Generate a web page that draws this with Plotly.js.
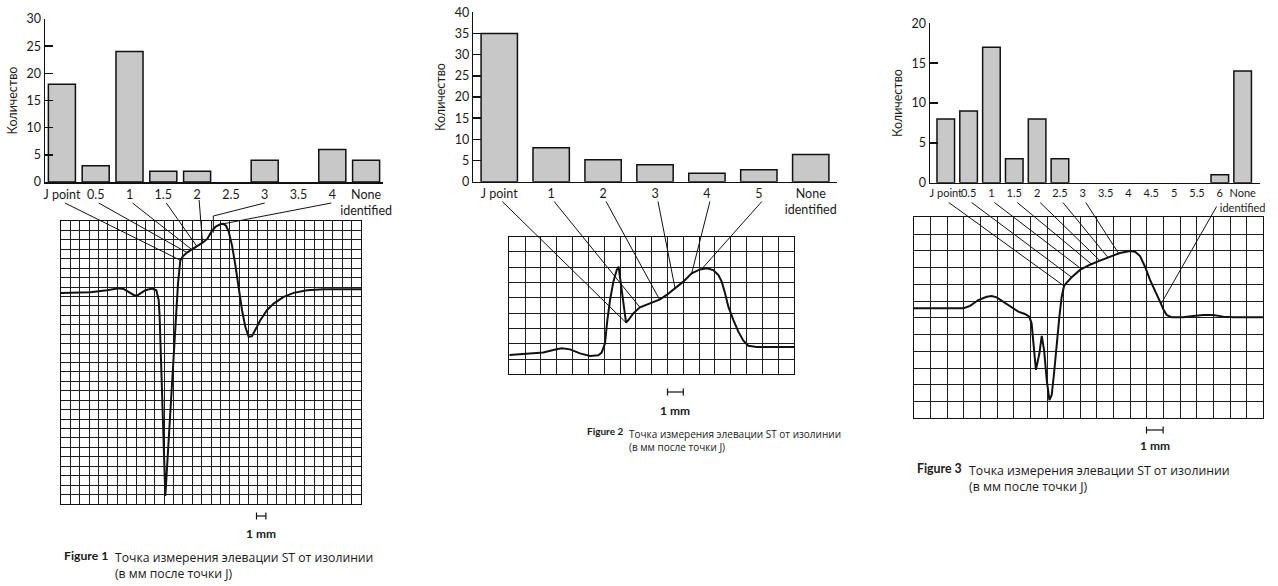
<!DOCTYPE html>
<html><head><meta charset="utf-8">
<script src="https://cdn.plot.ly/plotly-3.0.1.min.js"></script>
<style>html,body{margin:0;padding:0;background:#fff}#chart{width:1278px;height:586px}</style>
</head><body><div id="chart"></div>
<script>
const W = 1278, H = 586;

// ---------- Data ----------
const fig1Categories = ['J point','0.5','1','1.5','2','2.5','3','3.5','4','None<br>identified'];
const fig1Counts = [18,3,24,2,2,0,4,0,6,4];
const fig1TickVals = [0,5,10,15,20,25,30];

const fig2Categories = ['J point','1','2','3','4','5','None<br>identified'];
const fig2Counts = [35,8,5.2,4,2,2.8,6.4];
const fig2TickVals = [0,5,10,15,20,25,30,35,40];

const fig3Categories = ['J point','0.5','1','1.5','2','2.5','3','3.5','4','4.5','5','5.5','6','None<br>identified'];
const fig3Counts = [8,9,17,3,8,3,0,0,0,0,0,0,1,14];
const fig3TickVals = [0,5,10,15,20];

// ECG traces, in grid cells (x from left, y from bottom)
const fig1EcgX = [0,3.13,4.91,6.15,6.68,7.22,7.75,8.11,8.46,9.0,9.71,10.17,10.42,10.52,11.13,12.48,12.73,13.0,13.44,13.97,14.5,15.1,15.6,16.07,16.5,17.0,17.3,17.6,17.88,18.24,18.6,18.95,19.31,19.66,20.02,20.37,20.84,21.26,21.97,22.68,23.75,24.82,26.24,28.02,32];
const fig1EcgY = [22.38,22.45,22.66,22.87,22.8,22.48,22.16,22.09,22.31,22.66,22.84,22.66,21.6,19.84,0.85,23.36,25.84,26.25,26.65,26.96,27.3,27.7,28.1,28.9,29.4,29.65,29.7,29.5,28.9,27.42,25.31,22.84,20.54,18.78,17.72,17.79,18.6,19.48,20.54,21.25,21.95,22.38,22.66,22.76,22.76];

const fig2EcgX = [0,1.10,2.15,2.78,3.31,3.84,4.47,5.10,5.63,5.84,6.05,6.20,6.37,6.58,6.79,6.91,7.38,7.53,7.84,8.26,8.90,9.53,9.95,10.48,11.0,11.53,12.06,12.48,12.9,13.22,13.43,13.64,13.85,14.17,14.48,14.80,15.11,15.64,18];
const fig2EcgY = [1.26,1.33,1.42,1.59,1.70,1.63,1.37,1.20,1.24,1.42,2.03,3.55,4.86,6.06,6.82,7.04,3.38,3.55,3.99,4.38,4.64,4.90,5.19,5.62,6.06,6.60,6.86,6.93,6.82,6.49,6.06,5.30,4.42,3.55,2.79,2.20,1.87,1.79,1.79];

const fig3EcgX = [0,2.97,3.37,3.87,4.37,4.67,4.97,5.37,5.77,6.27,6.67,6.93,7.07,7.17,7.33,7.54,7.68,7.82,7.98,8.14,8.28,8.42,8.58,8.74,8.88,9.02,9.18,9.48,9.98,10.58,11.18,11.78,12.38,12.99,13.29,13.59,13.89,14.19,14.49,14.79,14.99,15.19,15.49,16.19,16.79,17.39,17.99,18.60,19.2,21];
const fig3EcgY = [6.57,6.57,6.71,7.06,7.26,7.30,7.22,6.97,6.67,6.37,6.23,6.07,5.67,4.48,2.89,3.88,4.92,4.08,2.29,1.09,1.39,2.69,4.48,6.07,7.26,7.90,8.10,8.42,8.86,9.17,9.41,9.65,9.87,9.99,9.95,9.69,9.05,8.26,7.56,6.97,6.51,6.17,6.03,6.03,6.11,6.17,6.17,6.07,6.03,6.03];

// leader lines: category index on bar axis -> point on the ECG trace (grid cells)
const fig1LeaderCats = [0,1,2,3,4,6,8];
const fig1LeaderEndX = [12.73,13.44,13.97,14.5,15.1,16.25,17.2];
const fig1LeaderEndY = [25.84,26.65,26.96,27.3,27.7,28.75,29.68];
const fig2LeaderCats = [0,1,2,3,4,5];
const fig2LeaderEndX = [7.38,8.26,9.50,10.48,11.53,12.16];
const fig2LeaderEndY = [3.38,4.38,4.89,5.62,6.60,6.88];
const fig3LeaderCats = [0,1,2,3,4,5,6,13];
const fig3LeaderEndX = [9.02,9.48,10.08,10.68,11.18,11.65,12.3,14.85];
const fig3LeaderEndY = [7.90,8.42,8.90,9.20,9.41,9.62,9.85,6.83];

// ---------- Layout geometry (page pixels) ----------
const BAR = {
  f1:{left:45, right:383, top:19, bottom:182, r0:-0.5, r1:9.5, ymax:30, ty:203},
  f2:{left:473.3, right:836.7, top:12.3, bottom:181.7, r0:-0.5, r1:6.5, ymax:40, ty:201.5},
  f3:{left:930, right:1260, top:23.3, bottom:182.7, r0:-0.69, r1:13.76, ymax:20, ty:202.5}
};
const GRID = {
  f1:{left:61, right:361, top:221, bottom:504, cols:32, rows:30},
  f2:{left:509.3, right:794, top:236.7, bottom:374.3, cols:18, rows:9},
  f3:{left:914, right:1263.3, top:217.3, bottom:418.3, cols:21, rows:12}
};
const fx = p => p / W;
const fy = p => 1 - p / H;
const gx2px = (g, x) => g.left + x / g.cols * (g.right - g.left);
const gy2px = (g, y) => g.bottom - y / g.rows * (g.bottom - g.top);
const cat2px = (b, i) => b.left + (i - b.r0) / (b.r1 - b.r0) * (b.right - b.left);

const TXT = '#1a1a1a';
const FONT = 'Lato, sans-serif';

const traces = [];
const layout = {
  width: W, height: H,
  margin:{l:0,r:0,t:0,b:0},
  paper_bgcolor:'#fff', plot_bgcolor:'rgba(0,0,0,0)',
  showlegend:false,
  font:{family:FONT, color:TXT},
  annotations:[], shapes:[]
};

function addBar(n, key, cats, vals, tickvals, gap, xTickSize) {
  const b = BAR[key];
  const xa = n === 1 ? 'x' : 'x' + n, ya = n === 1 ? 'y' : 'y' + n;
  traces.push({type:'bar', x:cats, y:vals, xaxis:xa, yaxis:ya, width:1-gap,
    marker:{color:'#c8c8c8', line:{color:'#111', width:vals.map(v => v > 0 ? 1.5 : 0)}}, hoverinfo:'skip'});
  layout['xaxis' + (n === 1 ? '' : n)] = {
    domain:[fx(b.left), fx(b.right)], anchor:ya, type:'category',
    range:[b.r0, b.r1], showline:true, linecolor:'#111', linewidth:1.5,
    ticks:'', showgrid:false, zeroline:false, tickangle:0,
    tickfont:{family:FONT, size:xTickSize, color:TXT},
    ticklabelstandoff:0, fixedrange:true
  };
  layout['yaxis' + (n === 1 ? '' : n)] = {
    domain:[fy(b.bottom), fy(b.top)], anchor:xa, range:[0, b.ymax],
    tickvals:tickvals, ticks:'inside', ticklen:8, tickwidth:1.5, tickcolor:'#111',
    showline:true, linecolor:'#111', linewidth:1.5, showgrid:false, zeroline:false,
    tickfont:{family:FONT, size:12.5, color:TXT}, fixedrange:true,
    title:{text:'Количество', font:{family:FONT, size:12.5, color:TXT}, standoff:6}
  };
}
addBar(1, 'f1', fig1Categories, fig1Counts, fig1TickVals, 0.2, 12.5);
addBar(2, 'f2', fig2Categories, fig2Counts, fig2TickVals, 0.3, 12.5);
addBar(3, 'f3', fig3Categories, fig3Counts, fig3TickVals, 0.23, 11);

function addGrid(n, key, xs, ys) {
  const g = GRID[key];
  const xa = 'x' + n, ya = 'y' + n;
  traces.push({type:'scatter', mode:'lines', x:xs, y:ys, xaxis:xa, yaxis:ya,
    line:{color:'#111', width:2}, hoverinfo:'skip', cliponaxis:false});
  const common = {showline:true, mirror:true, linecolor:'#111', linewidth:1,
    showgrid:true, gridcolor:'#1e1e1e', gridwidth:1, dtick:1, tick0:0,
    ticks:'', showticklabels:false, zeroline:false, fixedrange:true};
  layout['xaxis' + n] = Object.assign({domain:[fx(g.left), fx(g.right)], anchor:ya, range:[0, g.cols]}, common);
  layout['yaxis' + n] = Object.assign({domain:[fy(g.bottom), fy(g.top)], anchor:xa, range:[0, g.rows]}, common);
}
addGrid(4, 'f1', fig1EcgX, fig1EcgY);
addGrid(5, 'f2', fig2EcgX, fig2EcgY);
addGrid(6, 'f3', fig3EcgX, fig3EcgY);

// overlay axis in page pixels for leader lines and scale bars
layout.xaxis7 = {domain:[0,1], anchor:'y7', range:[0,W], visible:false, fixedrange:true};
layout.yaxis7 = {domain:[0,1], anchor:'x7', range:[H,0], visible:false, fixedrange:true};

function leaderTrace(bkey, gkey, cats, ex, ey, special) {
  const b = BAR[bkey], g = GRID[gkey];
  const X = [], Y = [];
  cats.forEach((c, i) => {
    const s = special && special[c];
    let tx = cat2px(b, c) + (s && s.dx !== undefined ? s.dx : 3);
    let ty = s && s.ty !== undefined ? s.ty : b.ty;
    X.push(tx); Y.push(ty);
    if (s && s.elbow) { X.push(gx2px(g, s.elbow[0])); Y.push(gy2px(g, s.elbow[1])); }
    X.push(gx2px(g, ex[i])); Y.push(gy2px(g, ey[i]));
    X.push(null); Y.push(null);
  });
  traces.push({type:'scatter', mode:'lines', x:X, y:Y, xaxis:'x7', yaxis:'y7',
    line:{color:'#111', width:1}, hoverinfo:'skip', connectgaps:false});
}
leaderTrace('f1','f1', fig1LeaderCats, fig1LeaderEndX, fig1LeaderEndY,
  {4:{dx:2, ty:200}, 6:{dx:0, elbow:[16.25, 30.53]}, 8:{dx:-1}});
leaderTrace('f2','f2', fig2LeaderCats, fig2LeaderEndX, fig2LeaderEndY, {});
leaderTrace('f3','f3', fig3LeaderCats, fig3LeaderEndX, fig3LeaderEndY, {13:{dx:-26, ty:206.5}});

// scale bars (1 grid cell = 1 mm)
function scaleBar(gkey, left, y, labelY) {
  const g = GRID[gkey];
  const w = (g.right - g.left) / g.cols;
  traces.push({type:'scatter', mode:'lines',
    x:[left, left, null, left, left + w, null, left + w, left + w],
    y:[y - 3.5, y + 3.5, null, y, y, null, y - 3.5, y + 3.5],
    xaxis:'x7', yaxis:'y7', line:{color:'#111', width:1.2}, hoverinfo:'skip'});
  layout.annotations.push({xref:'paper', yref:'paper', x:fx(left + w / 2), y:fy(labelY),
    text:'<b>1 mm</b>', showarrow:false, xanchor:'center', yanchor:'middle',
    font:{family:FONT, size:12, color:TXT}});
}
scaleBar('f1', 256.5, 516, 533);
scaleBar('f2', 667.5, 392, 410);
scaleBar('f3', 1146.5, 430, 445);

// captions
function caption(n, x0, x1, y1, size) {
  layout.annotations.push({xref:'paper', yref:'paper', x:fx(x0), y:fy(y1),
    text:'<b>Figure ' + n + '</b>', showarrow:false, xanchor:'left', yanchor:'middle',
    font:{family:FONT, size:size, color:TXT}});
  layout.annotations.push({xref:'paper', yref:'paper', x:fx(x1), y:fy(y1 - size * 0.62),
    text:'Точка измерения элевации ST от изолинии<br>(в мм после точки J)', showarrow:false,
    xanchor:'left', yanchor:'top', align:'left',
    font:{family:'Open Sans, sans-serif', size:size, color:TXT}});
}
caption(1, 62, 113, 555, 12.2);
caption(2, 585, 627, 431, 10);
caption(3, 915, 967, 468, 12.3);

Plotly.newPlot('chart', traces, layout, {displayModeBar:false, staticPlot:true});
</script>
</body></html>
